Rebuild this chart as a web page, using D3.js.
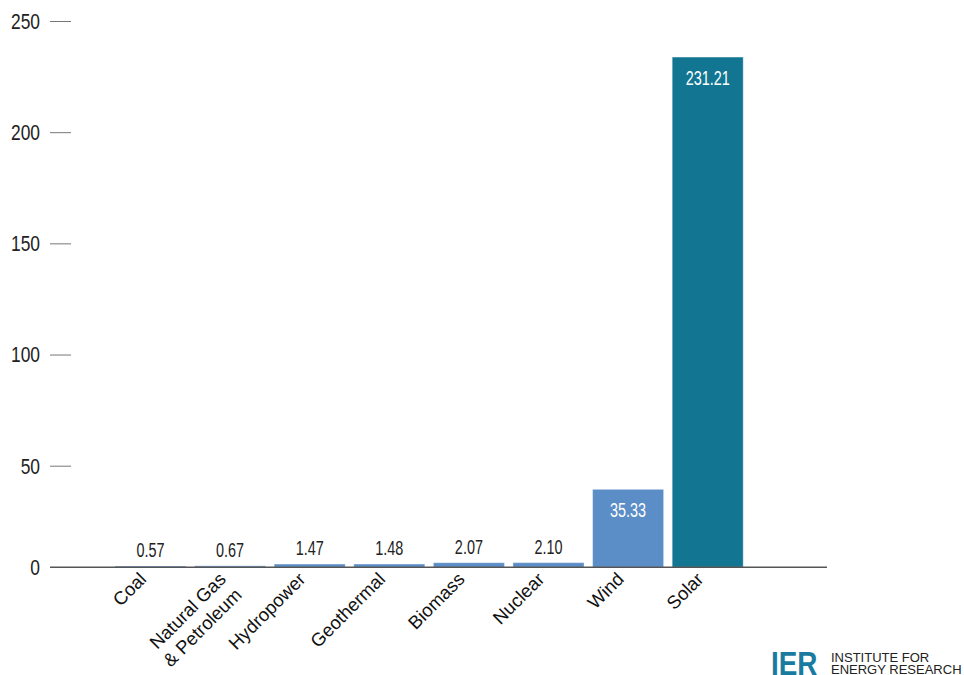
<!DOCTYPE html>
<html>
<head>
<meta charset="utf-8">
<script src="https://cdn.jsdelivr.net/npm/d3@7"></script>
<style>
  html, body { margin: 0; padding: 0; background: #fff; }
  svg { display: block; }
</style>
</head>
<body>
<svg id="chart" width="964" height="675"></svg>
<script>
// ---- data ----
const categories = ["Coal", "Natural Gas\n& Petroleum", "Hydropower", "Geothermal", "Biomass", "Nuclear", "Wind", "Solar"];
const values = [0.57, 0.67, 1.47, 1.48, 2.07, 2.10, 35.33, 231.21];
const valueLabels = ["0.57", "0.67", "1.47", "1.48", "2.07", "2.10", "35.33", "231.21"];
const highlight = [false, false, false, false, false, false, false, true];
const yTicks = [0, 50, 100, 150, 200, 250];

const svg = d3.select("#chart");
const SANS = "'Liberation Sans', Arial, Helvetica, sans-serif";

const baseY = 567.3;
const x = d3.scaleBand().domain(categories).range([110.7, 747.5]).paddingInner(0.108).paddingOuter(0.054);
const y = d3.scaleLinear().domain([0, 250]).range([baseY, 15.6]);
// axis tick positions as laid out in the source graphic
const yAxisScale = d3.scaleLinear().domain([0, 50, 250]).range([baseY, 465.7, 21]);

// y axis ticks
const yAxis = d3.axisRight(yAxisScale).tickValues(yTicks.filter(d => d !== 0)).tickSize(21).tickFormat("");
const gy = svg.append("g").attr("transform", "translate(50,0)").call(yAxis);
gy.select(".domain").remove();
gy.selectAll(".tick line").attr("stroke", "#777").attr("stroke-width", 1);

svg.append("g").selectAll("text").data(yTicks).join("text")
  .attr("transform", d => `translate(40,${yAxisScale(d)}) scale(0.79,1)`)
  .attr("dy", "0.36em")
  .attr("text-anchor", "end")
  .style("font-family", SANS).style("font-size", "22px").attr("fill", "#222")
  .text(d => d);

// bars
const colorLow = "#5b8dc7", colorHigh = "#127592";
svg.append("g").selectAll("rect").data(categories).join("rect")
  .attr("x", d => x(d))
  .attr("width", x.bandwidth())
  .attr("y", (d, i) => y(values[i]))
  .attr("height", (d, i) => baseY - y(values[i]))
  .attr("fill", (d, i) => highlight[i] ? colorHigh : colorLow)
  .attr("stroke", "rgba(255,255,255,0.35)")
  .attr("stroke-width", 1);

// baseline
svg.append("line").attr("x1", 50).attr("x2", 827).attr("y1", baseY).attr("y2", baseY)
  .attr("stroke", "#555").attr("stroke-width", 1.5);

// value labels
const inside = i => (baseY - y(values[i])) > 40;
svg.append("g").selectAll("text").data(categories).join("text")
  .attr("transform", (d, i) => {
    const ty = inside(i) ? y(values[i]) + 28 : y(values[i]) - 9;
    return `translate(${x(d) + x.bandwidth() / 2},${ty}) scale(0.74,1)`;
  })
  .attr("text-anchor", "middle")
  .style("font-family", SANS).style("font-size", "19.5px")
  .attr("fill", (d, i) => inside(i) ? "#fff" : "#222")
  .text((d, i) => valueLabels[i]);

// category labels
const cl = svg.append("g").selectAll("text").data(categories).join("text")
  .attr("transform", d => `translate(${x(d) + x.bandwidth() / 2 - 3},${baseY + 13}) rotate(-45)`)
  .attr("text-anchor", "end")
  .style("font-family", SANS).style("font-size", "18.5px")
  .attr("fill", "#111");
cl.each(function(d) {
  const lines = d.split("\n");
  const t = d3.select(this);
  lines.forEach((ln, j) => {
    t.append("tspan").attr("x", 0).attr("dy", j === 0 ? "0em" : "1.2em").text(ln);
  });
});

// logo
svg.append("text").attr("transform", `translate(771,675) scale(0.82,1)`)
  .style("font-family", SANS).style("font-size", "34px").style("font-weight", "bold")
  .attr("fill", "#1a7ba0").text("IER");
const logo = svg.append("text").style("font-family", SANS).style("font-size", "13px").attr("fill", "#222");
logo.append("tspan").attr("x", 831).attr("y", 661.5).text("INSTITUTE FOR");
logo.append("tspan").attr("x", 831).attr("y", 673.5).text("ENERGY RESEARCH");
</script>
</body>
</html>
